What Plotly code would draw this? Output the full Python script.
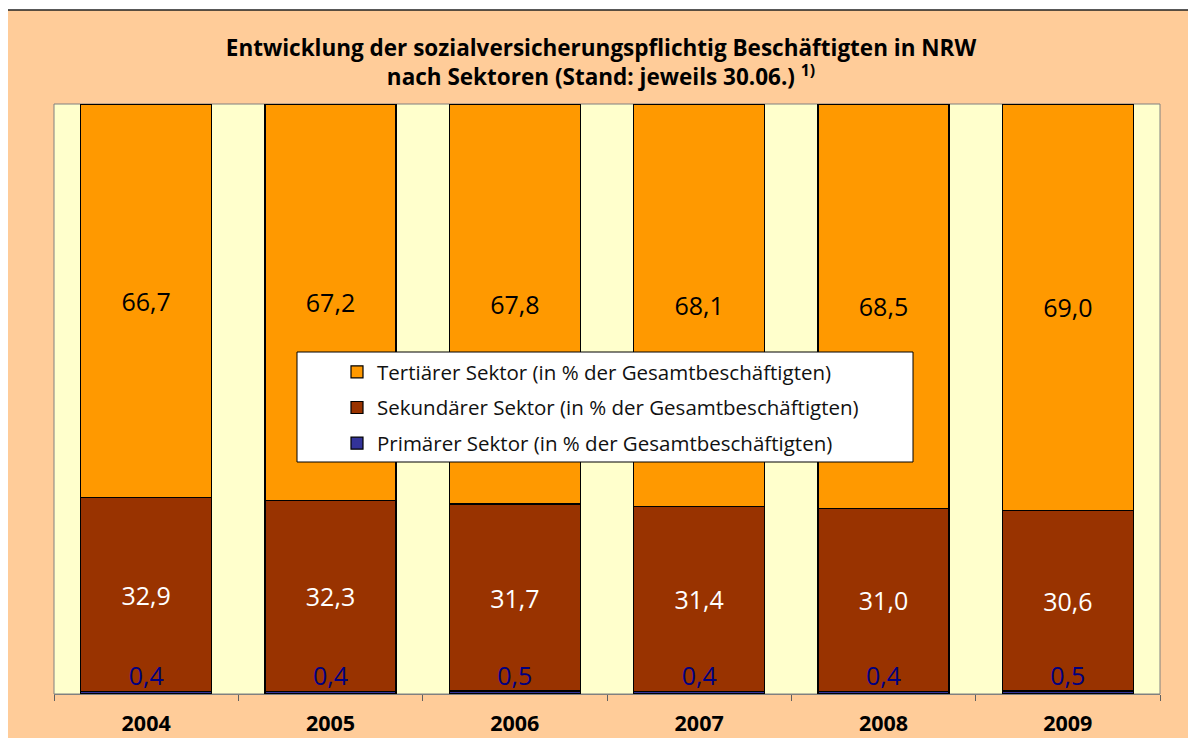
import plotly.graph_objects as go

years = ["2004", "2005", "2006", "2007", "2008", "2009"]
primaer = [0.4, 0.4, 0.5, 0.4, 0.4, 0.5]
sekundaer = [32.9, 32.3, 31.7, 31.4, 31.0, 30.6]
tertiaer = [66.7, 67.2, 67.8, 68.1, 68.5, 69.0]

names = {
    "p": "Primärer Sektor (in % der Gesamtbeschäftigten)",
    "s": "Sekundärer Sektor (in % der Gesamtbeschäftigten)",
    "t": "Tertiärer Sektor (in % der Gesamtbeschäftigten)",
}
title_text = ("<b>Entwicklung der sozialversicherungspflichtig Beschäftigten in NRW<br>"
              "nach Sektoren (Stand: jeweils 30.06.) <sup>1)</sup></b>")

FONT = "Open Sans"


def fmt(v):
    return f"{v:.1f}".replace(".", ",")


# page body has an 8px margin; figure is sized/positioned to compensate
OFF = 8
W, H = 1196 - OFF, 738 - OFF
PL, PR, PT, PB = 54, 1160, 104, 694  # plot area edges in screen pixels
L, R, T, B = PL - OFF, 1196 - PR, PT - OFF, 738 - PB
pw, ph = PR - PL, PB - PT


def px_x(p):
    return (p - PL) / pw


def px_y(p):
    return (PB - p) / ph


fig = go.Figure()
fig.add_trace(go.Bar(
    x=years, y=primaer, name=names["p"], legendgroup="p", legendrank=3,
    marker=dict(color="#333399", line=dict(color="black", width=1.2)),
    width=0.71, textposition="none", hoverinfo="x+y",
))
fig.add_trace(go.Bar(
    x=years, y=sekundaer, name=names["s"], legendgroup="s", legendrank=2,
    marker=dict(color="#993300", line=dict(color="black", width=1.2)),
    width=0.71, text=[fmt(v) for v in sekundaer], textposition="inside",
    insidetextanchor="middle", constraintext="none",
    textfont=dict(family=FONT, size=25, color="white"),
))
fig.add_trace(go.Bar(
    x=years, y=tertiaer, name=names["t"], legendgroup="t", legendrank=1,
    marker=dict(color="#FF9900", line=dict(color="black", width=1.2)),
    width=0.71, text=[fmt(v) for v in tertiaer], textposition="inside",
    insidetextanchor="middle", constraintext="none",
    textfont=dict(family=FONT, size=25, color="black"),
))
# labels of the primary sector, drawn just above the thin bottom segment
fig.add_trace(go.Scatter(
    x=years, y=primaer, mode="text", text=[fmt(v) for v in primaer],
    textposition="top center", showlegend=False, hoverinfo="skip",
    cliponaxis=False,
    textfont=dict(family=FONT, size=25, color="#000080"),
))

shapes = [
    # outer peach frame
    dict(type="rect", xref="paper", yref="paper", layer="below",
         x0=px_x(7), x1=px_x(1215), y0=px_y(760), y1=px_y(10),
         fillcolor="#FFCC99", line=dict(color="#222222", width=1.5)),
    # plot area
    dict(type="rect", xref="paper", yref="paper", layer="below",
         x0=0, x1=1, y0=0, y1=1,
         fillcolor="#FFFFCC", line=dict(color="#808080", width=1)),
    # legend box
    dict(type="rect", xref="paper", yref="paper", layer="above",
         x0=px_x(297), x1=px_x(913), y0=px_y(462), y1=px_y(352),
         fillcolor="white", line=dict(color="black", width=1)),
]

fig.update_layout(
    width=W, height=H,
    margin=dict(l=L, r=R, t=T, b=B, autoexpand=False),
    paper_bgcolor="white",
    plot_bgcolor="rgba(0,0,0,0)",
    barmode="stack",
    barnorm="percent",
    font=dict(family=FONT, color="black"),
    title=dict(text=title_text, x=px_x(601), xref="paper", xanchor="center",
               y=1 - (56 - OFF) / H, yref="container", yanchor="middle",
               font=dict(family=FONT, size=22.5, color="black")),
    xaxis=dict(type="category", tickson="boundaries", ticks="outside",
               ticklen=6, tickcolor="#606060", showline=True,
               linecolor="#808080", linewidth=1, showgrid=False,
               ticklabelstandoff=10, automargin=False,
               tickfont=dict(family=FONT, size=21.5, color="black", weight="bold"),
               range=[-0.5, 5.5]),
    yaxis=dict(range=[0, 100], visible=False, showgrid=False, automargin=False),
    legend=dict(x=px_x(337), y=px_y(352), xanchor="left", yanchor="top",
                bgcolor="rgba(0,0,0,0)", borderwidth=0,
                traceorder="grouped", tracegroupgap=6,
                font=dict(family=FONT, size=20.5, color="#111111")),
    shapes=shapes,
    showlegend=True,
)

fig.write_html("out.html")
